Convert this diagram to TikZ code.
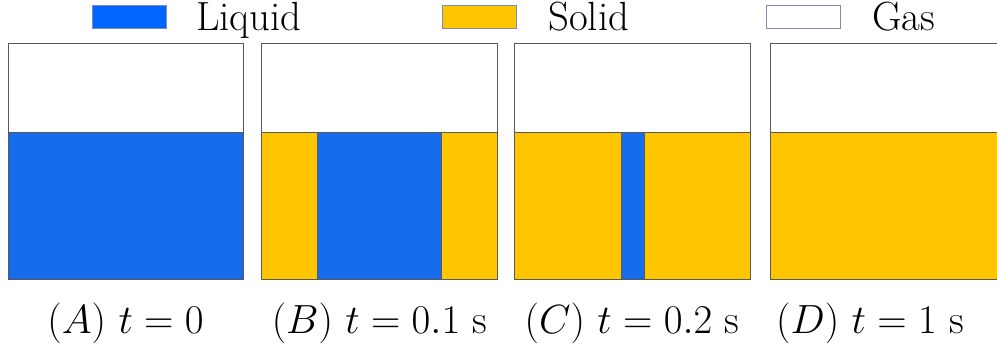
\RequirePackage{fix-cm}
\documentclass[tikz,border=0pt]{standalone}
\usepackage{amsmath}
\usepackage{tikz}

\definecolor{keyblue}{RGB}{0,102,255}
\definecolor{liquidblue}{RGB}{22,108,235}
\definecolor{solidyellow}{RGB}{255,198,0}
\definecolor{keyedge}{RGB}{125,140,180}

\begin{document}
\begin{tikzpicture}[x=0.025cm,y=-0.025cm,
    phase/.style={draw=black!65,line width=0.6pt},
    keybox/.style={draw=keyedge,line width=0.6pt},
    key/.style={font=\fontsize{29}{34}\selectfont,inner sep=0pt,anchor=base west},
    lbl/.style={font=\fontsize{29}{34}\selectfont,inner sep=0pt,anchor=base}]

% Canvas (right panel runs off the edge)
\useasboundingbox (0,0) rectangle (997,345);
\clip (0,0) rectangle (997,345);

% Legend
\draw[keybox,fill=keyblue] (92,5) rectangle (166,28);
\node[key] (liquid) at (196,30) {Liquid};
\draw[keybox,fill=solidyellow] (442,5) rectangle (516,28);
\node[key] (solid) at (548,30) {Solid};
\draw[keybox,fill=white] (766,5) rectangle (840,28);
\node[key] (gas) at (872,30) {Gas};

% Panel A: all liquid
\draw[phase,fill=white] (8,43) rectangle (243,132);
\draw[phase,fill=liquidblue] (8,132) rectangle (243,279);
\node[lbl] (capA) at (125.5,333) {$(A)$ $t=0$};

% Panel B: solid grows from the walls
\draw[phase,fill=white] (261,43) rectangle (497,132);
\draw[phase,fill=solidyellow] (261,132) rectangle (317,279);
\draw[phase,fill=liquidblue] (317,132) rectangle (441,279);
\draw[phase,fill=solidyellow] (441,132) rectangle (497,279);
\node[lbl] (capB) at (379.5,333) {$(B)$ $t=0.1$ s};

% Panel C: thin liquid strip left
\draw[phase,fill=white] (514,43) rectangle (750,132);
\draw[phase,fill=solidyellow] (514,132) rectangle (621,279);
\draw[phase,fill=liquidblue] (621,132) rectangle (644,279);
\draw[phase,fill=solidyellow] (644,132) rectangle (750,279);
\node[lbl] (capC) at (632,333) {$(C)$ $t=0.2$ s};

% Panel D: all solid
\draw[phase,fill=white] (770,43) rectangle (1005,132);
\draw[phase,fill=solidyellow] (770,132) rectangle (1005,279);
\node[lbl] (capD) at (870,333) {$(D)$ $t=1$ s};

\end{tikzpicture}
\end{document}
